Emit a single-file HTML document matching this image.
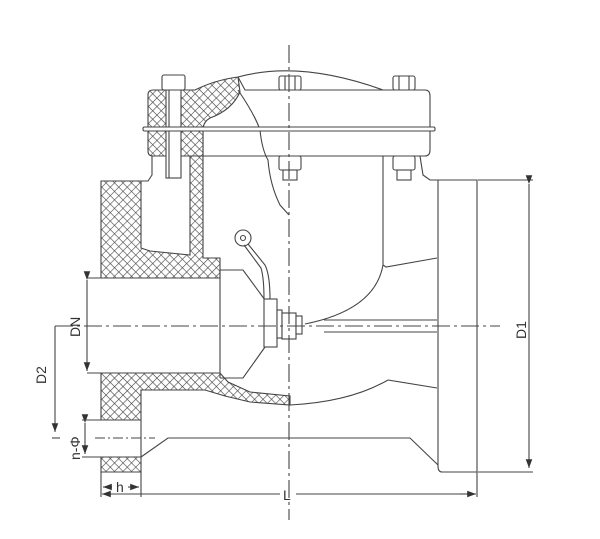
<!DOCTYPE html>
<html><head><meta charset="utf-8"><style>
html,body{margin:0;padding:0;background:#fff;}
svg{display:block;}
text{font-family:"Liberation Sans",sans-serif;fill:#333;}
</style></head><body>
<svg width="600" height="539" viewBox="0 0 600 539" xmlns="http://www.w3.org/2000/svg">
<defs>
<pattern id="h" width="6" height="6" patternUnits="userSpaceOnUse" patternTransform="rotate(45)">
<rect width="6" height="6" fill="#fff"/>
<path d="M0 0H6M0 0V6" stroke="#444" stroke-width="1.2"/>
</pattern>
<marker id="a" markerWidth="8" markerHeight="6" refX="8" refY="3" orient="auto"><path d="M0 0L8 3L0 6z" fill="#333"/></marker>
</defs>
<g fill="none" stroke="#444" stroke-width="1.1">
<!-- hatched left flange & walls -->
<path d="M101 181H141V248L150 251L190 255V127H203V258H220V278H101Z" fill="url(#h)"/>
<path d="M101 373H220L228 382L250 392L290 396V405L250 402L225 396L205 390H141V420H101Z" fill="url(#h)"/>
<path d="M101 457H141V472H101Z" fill="url(#h)"/>
<!-- bonnet hatched -->
<path d="M153 90H195Q215 80 238 77L240 92Q232 110 210 118Q203 122 203 130V156H153Q148 156 148 151V95Q148 90 153 90Z" fill="url(#h)"/>
<!-- bolt -->
<rect x="166" y="88" width="15" height="90" fill="#fff"/>
<rect x="162" y="75" width="23" height="15" rx="2" fill="#fff"/>
<line x1="169" y1="90" x2="169" y2="178"/>
<!-- cover -->
<path d="M238 77L245 90H425Q430 90 430 96V150Q430 156 425 156H203"/>
<path d="M238 77Q300 60 383 90"/>
<path d="M238 90Q255 115 260 130Q262 150 268 160Q270 185 280 205L289 215"/>
<rect x="143" y="127" width="292" height="4" rx="1.5" fill="#fff"/>
<!-- nuts -->
<rect x="279" y="76" width="22" height="14" rx="2"/><line x1="285" y1="76" x2="285" y2="90"/><line x1="295" y1="76" x2="295" y2="90"/>
<rect x="393" y="76" width="22" height="14" rx="2"/><line x1="399" y1="76" x2="399" y2="90"/><line x1="409" y1="76" x2="409" y2="90"/>
<rect x="279" y="156" width="22" height="14" rx="2"/><rect x="283" y="170" width="14" height="10"/>
<rect x="393" y="156" width="22" height="14" rx="2"/><rect x="397" y="170" width="14" height="10"/>
<!-- left neck -->
<path d="M141 181H148L152 175V156"/>
<!-- right body -->
<path d="M383 156V265L386 267L437 258"/>
<path d="M383 265Q375 310 305 324"/>
<path d="M420 156L423 175L430 180H438"/>
<path d="M388 380L437 388"/>
<path d="M388 380Q350 402 290 405"/>
<path d="M324 320H437M324 332H437"/>
<!-- throat -->
<path d="M220 270H243L265 300"/>
<path d="M265 347L243 378H220"/>
<path d="M220 270V378"/>
<path d="M101 278H220M101 373H220"/>
<!-- bottom -->
<path d="M141 457L168 438H410L438 465"/>
<path d="M141 420V457M141 420H101M141 457H101"/>
<!-- right flange -->
<path d="M438 180H477V472H442Q438 472 438 466Z"/>
<!-- disc & arm -->
<circle cx="243" cy="238" r="8"/><circle cx="243" cy="238" r="2.5"/>
<path d="M248 244L265 265Q270 275 270 299M244 245L261 268Q264 278 264 299"/>
<rect x="264" y="299" width="13" height="48" fill="#fff"/>
<rect x="277" y="310" width="5" height="28" fill="#fff"/>
<rect x="282" y="313" width="14" height="26" fill="#fff"/>
<rect x="296" y="316" width="6" height="18" fill="#fff"/>
<!-- centerlines -->
<path d="M289 45V520" stroke-dasharray="18 4 3 4"/>
<path d="M55 326H500" stroke-dasharray="18 4 3 4"/>
<path d="M95 438H155" stroke-dasharray="10 3 2 3"/>
<!-- dimensions -->
<path d="M478 180H533M478 472H533"/>
<path d="M529 184V468" marker-start="url(#a)" marker-end="url(#a)"/>
<path d="M87 280V371" marker-start="url(#a)" marker-end="url(#a)"/>
<path d="M87 278H101M87 373H101"/>
<path d="M55 326V432" marker-end="url(#a)"/>
<path d="M52 438H60"/>
<path d="M85 423V454" marker-start="url(#a)" marker-end="url(#a)"/>
<path d="M82 420H101M82 457H101"/>
<path d="M101 472V497M141 472V497M477 472V497"/>
<path d="M112 487H103" marker-end="url(#a)"/><path d="M128 487H139" marker-end="url(#a)"/>
<path d="M103 494H280M296 494H475"/>
<path d="M120 494H102" marker-end="url(#a)"/><path d="M460 494H476" marker-end="url(#a)"/>
</g>
<text x="0" y="0" font-size="14" transform="translate(80 337) rotate(-90)">DN</text>
<text x="0" y="0" font-size="14" transform="translate(46 384) rotate(-90)">D2</text>
<text x="0" y="0" font-size="14" transform="translate(526 339) rotate(-90)">D1</text>
<text x="0" y="0" font-size="14" transform="translate(80 460) rotate(-90)">n-Φ</text>
<text x="116" y="492" font-size="14">h</text>
<text x="283" y="500" font-size="14">L</text>
</svg>
</body></html>
